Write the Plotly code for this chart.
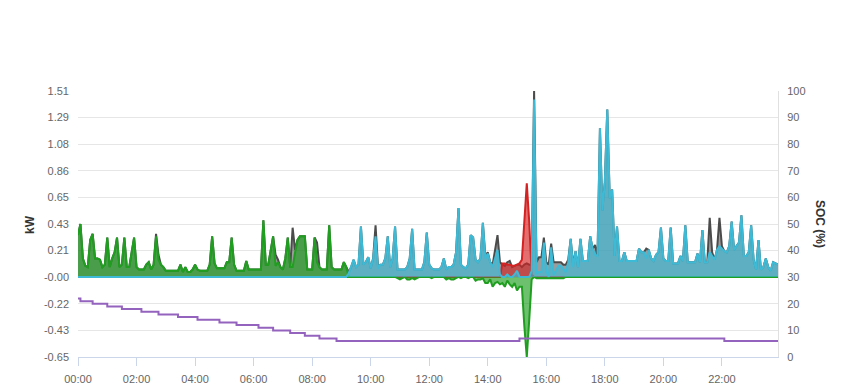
import pandas as pd
import plotly.graph_objects as go

# ---- time axis: 5-minute samples over one day ----
times = pd.date_range("2024-05-01 00:00", periods=288, freq="5min")

# ---- series values (kW), one row per hour (12 x 5-min samples) ----
load_kw = [
    0.34,0.43,0.15,0.09,0.08,0.30,0.35,0.15,0.15,0.14,0.08,0.10,
    0.32,0.08,0.15,0.20,0.32,0.08,0.10,0.32,0.08,0.08,0.20,0.32,
    0.08,0.06,0.06,0.06,0.10,0.12,0.06,0.10,0.35,0.18,0.10,0.08,
    0.05,0.05,0.05,0.05,0.05,0.05,0.10,0.04,0.08,0.04,0.04,0.06,
    0.10,0.06,0.05,0.05,0.05,0.05,0.10,0.33,0.11,0.07,0.07,0.07,
    0.07,0.12,0.12,0.32,0.10,0.05,0.05,0.05,0.05,0.13,0.06,0.06,
    0.06,0.06,0.06,0.06,0.46,0.10,0.10,0.20,0.33,0.18,0.14,0.08,
    0.06,0.15,0.32,0.08,0.40,0.22,0.30,0.33,0.33,0.33,0.06,0.06,
    0.06,0.32,0.28,0.08,0.06,0.06,0.06,0.42,0.08,0.06,0.06,0.06,
    0.06,0.12,0.08,0.04,0.08,0.14,0.08,0.10,0.41,0.10,0.12,0.16,
    0.07,0.15,0.42,0.08,0.10,0.10,0.15,0.33,0.08,0.15,0.41,0.06,
    0.06,0.06,0.06,0.08,0.15,0.39,0.06,0.06,0.06,0.06,0.12,0.36,
    0.10,0.07,0.06,0.06,0.06,0.08,0.15,0.06,0.08,0.08,0.10,0.20,
    0.56,0.10,0.08,0.07,0.10,0.34,0.32,0.14,0.12,0.15,0.44,0.17,
    0.20,0.12,0.10,0.22,0.34,0.12,0.10,0.09,0.12,0.13,0.08,0.09,
    0.10,0.10,0.08,0.10,0.11,0.10,0.10,1.51,0.12,0.16,0.16,0.32,
    0.12,0.10,0.27,0.12,0.12,0.12,0.12,0.10,0.10,0.14,0.31,0.10,
    0.21,0.08,0.31,0.13,0.13,0.13,0.33,0.23,0.26,0.17,1.21,0.54,
    0.77,1.36,0.64,0.71,0.17,0.41,0.13,0.13,0.20,0.13,0.13,0.13,
    0.13,0.13,0.23,0.20,0.20,0.23,0.22,0.15,0.13,0.18,0.20,0.40,
    0.15,0.13,0.13,0.40,0.11,0.11,0.11,0.17,0.13,0.42,0.12,0.12,
    0.12,0.12,0.19,0.12,0.38,0.12,0.12,0.48,0.20,0.14,0.22,0.48,
    0.25,0.21,0.20,0.25,0.45,0.22,0.25,0.28,0.50,0.17,0.17,0.20,
    0.42,0.14,0.06,0.30,0.06,0.08,0.15,0.08,0.05,0.12,0.11,0.10,
]

grid_kw = [
    0.34,0.43,0.15,0.09,0.08,0.30,0.35,0.15,0.15,0.14,0.08,0.10,
    0.32,0.08,0.15,0.20,0.32,0.08,0.10,0.32,0.08,0.08,0.20,0.32,
    0.08,0.06,0.06,0.06,0.10,0.12,0.06,0.10,0.33,0.14,0.10,0.08,
    0.05,0.05,0.05,0.05,0.05,0.05,0.10,0.04,0.08,0.04,0.04,0.06,
    0.10,0.06,0.05,0.05,0.05,0.05,0.10,0.33,0.11,0.07,0.07,0.07,
    0.07,0.12,0.12,0.32,0.10,0.05,0.05,0.05,0.05,0.13,0.06,0.06,
    0.06,0.06,0.06,0.06,0.46,0.10,0.10,0.20,0.33,0.09,0.12,0.08,
    0.06,0.15,0.32,0.08,0.08,0.20,0.30,0.33,0.33,0.33,0.06,0.06,
    0.06,0.32,0.12,0.08,0.06,0.06,0.06,0.42,0.08,0.06,0.06,0.06,
    0.06,0.12,0.08,0,0,0,0,0,0,0,0,0,
    0,0,0,0,0,0,0,0,0,0,0,-0.01,
    -0.02,-0.01,0,-0.02,-0.02,-0.01,-0.02,-0.01,0,0,0,0,
    0,-0.01,0,0,0,0,0,-0.02,-0.01,-0.02,-0.02,-0.01,
    0,-0.01,0,0,-0.01,0,0,-0.03,-0.02,-0.02,-0.01,-0.05,
    -0.05,-0.02,-0.08,-0.05,-0.04,-0.06,-0.05,-0.08,-0.03,-0.06,-0.08,-0.05,
    -0.11,-0.08,-0.08,-0.40,-0.65,-0.35,-0.02,0,-0.01,-0.01,-0.01,-0.01,
    -0.01,-0.01,-0.01,-0.01,-0.01,-0.01,-0.01,-0.01,0,0,0,0,
    0,0,0,0,0,0,0,0,0,0,0,0,
    0,0,0,0,0,0,0,0,0,0,0,0,
    0,0,0,0,0,0,0,0,0,0,0,0,
    0,0,0,0,0,0,0,0,0,0,0,0,
    0,0,0,0,0,0,0,0,0,0,0,0,
    0,0,0,0,0,0,0,0,0,0,0,0,
    0,0,0,0,0,0,0,0,0,0,0,0,
]

pv_kw = [
    0,0,0,0,0,0,0,0,0,0,0,0,
    0,0,0,0,0,0,0,0,0,0,0,0,
    0,0,0,0,0,0,0,0,0,0,0,0,
    0,0,0,0,0,0,0,0,0,0,0,0,
    0,0,0,0,0,0,0,0,0,0,0,0,
    0,0,0,0,0,0,0,0,0,0,0,0,
    0,0,0,0,0,0,0,0,0,0,0,0,
    0,0,0,0,0,0,0,0,0,0,0,0,
    0,0,0,0,0,0,0,0,0,0,0,0,
    0,0,0,0,0,0,0,0,0,0,0,0,
    0,0,0,0,0,0,0,0,0,0,0,0,
    0,0,0,0,0,0,0,0,0,0,0,0,
    0,0,0,0,0,0,0,0,0,0,0,0,
    0,0,0,0,0,0,0,0,0,0,0,0,
    0,0,0,0,0,0,0.11,0.11,0.10,0.10,0.09,0.09,
    0.10,0.11,0.14,0.50,0.76,0.45,0.02,0,0,0,0,0,
    0,0,0,0,0,0,0,0,0,0,0,0,
    0,0,0,0,0,0,0,0,0,0,0,0,
    0,0,0,0,0,0,0,0,0,0,0,0,
    0,0,0,0,0,0,0,0,0,0,0,0,
    0,0,0,0,0,0,0,0,0,0,0,0,
    0,0,0,0,0,0,0,0,0,0,0,0,
    0,0,0,0,0,0,0,0,0,0,0,0,
    0,0,0,0,0,0,0,0,0,0,0,0,
]

battery_kw = [
    0,0,0,0,0,0,0,0,0,0,0,0,
    0,0,0,0,0,0,0,0,0,0,0,0,
    0,0,0,0,0,0,0,0,0,0,0,0,
    0,0,0,0,0,0,0,0,0,0,0,0,
    0,0,0,0,0,0,0,0,0,0,0,0,
    0,0,0,0,0,0,0,0,0,0,0,0,
    0,0,0,0,0,0,0,0,0,0,0,0,
    0,0,0,0,0,0,0,0,0,0,0,0,
    0,0,0,0,0,0,0,0,0,0,0,0,
    0,0,0,0.03,0.08,0.14,0.08,0.10,0.41,0.10,0.12,0.16,
    0.07,0.15,0.33,0.07,0.10,0.10,0.15,0.33,0.08,0.15,0.41,0.06,
    0.06,0.06,0.06,0.08,0.15,0.39,0.06,0.06,0.06,0.06,0.12,0.36,
    0.10,0.07,0.06,0.06,0.06,0.08,0.15,0.06,0.08,0.08,0.10,0.20,
    0.56,0.10,0.08,0.07,0.10,0.34,0.32,0.14,0.12,0.15,0.44,0.15,
    0.19,0.12,0.08,0.15,0.22,0.02,0.00,0.00,0.02,0.00,0.00,0.02,
    0.05,0.00,0.00,0.00,0.00,0.00,0.05,1.44,0.03,0.04,0.04,0.28,
    0.05,0.00,0.24,0.02,0.05,0.09,0.09,0.06,0.04,0.12,0.31,0.08,
    0.21,0.08,0.31,0.13,0.13,0.13,0.33,0.23,0.18,0.17,1.21,0.54,
    0.77,1.36,0.64,0.71,0.17,0.41,0.13,0.13,0.20,0.13,0.13,0.13,
    0.13,0.13,0.23,0.20,0.20,0.15,0.22,0.15,0.13,0.18,0.20,0.40,
    0.15,0.13,0.13,0.40,0.11,0.11,0.11,0.17,0.13,0.42,0.12,0.12,
    0.12,0.12,0.19,0.12,0.38,0.12,0.12,0.20,0.17,0.14,0.22,0.25,
    0.23,0.21,0.20,0.25,0.45,0.22,0.25,0.28,0.50,0.17,0.17,0.20,
    0.42,0.14,0.06,0.30,0.06,0.08,0.15,0.08,0.05,0.12,0.11,0.10,
]

# ---- battery state of charge (%), value from each change time ----
soc_times = ["00:00", "00:05", "00:30", "01:00", "01:30", "02:10", "02:45",
             "03:25", "04:05", "04:50", "05:25", "06:10", "06:40", "07:15",
             "07:45", "08:15", "08:50", "15:05", "22:05", "23:55"]
soc_pct = [22, 21, 20, 19, 18, 17, 16, 15, 14, 13, 12, 11, 10, 9, 8, 7, 6, 7, 6, 6]

# ---- axis ticks ----
kw_ticks = [-0.65, -0.434, -0.218, -0.002, 0.214, 0.43, 0.646, 0.862, 1.078, 1.294, 1.51]
kw_labels = ["-0.65", "-0.43", "-0.22", "-0.00", "0.21", "0.43", "0.65", "0.86", "1.08", "1.29", "1.51"]
soc_ticks = [0, 10, 20, 30, 40, 50, 60, 70, 80, 90, 100]

for arr in (load_kw, grid_kw, pv_kw, battery_kw):
    assert len(arr) == len(times)

day = times[0].strftime("%Y-%m-%d")
soc_x = [f"{day} {t}" for t in soc_times]

fig = go.Figure()

fig.add_trace(go.Scatter(x=times, y=load_kw, name="Load", mode="lines",
                         fill="tozeroy", line=dict(color="#4b4b4b", width=2),
                         fillcolor="rgba(75,75,75,0.55)"))
fig.add_trace(go.Scatter(x=times, y=pv_kw, name="PV", mode="lines",
                         fill="tozeroy", line=dict(color="#d42222", width=2),
                         fillcolor="rgba(212,34,34,0.65)"))
fig.add_trace(go.Scatter(x=times, y=grid_kw, name="Grid", mode="lines",
                         fill="tozeroy", line=dict(color="#1f9e1f", width=2),
                         fillcolor="rgba(31,158,31,0.65)"))
fig.add_trace(go.Scatter(x=times, y=battery_kw, name="Battery", mode="lines",
                         fill="tozeroy", line=dict(color="#3dbad5", width=2),
                         fillcolor="rgba(61,186,213,0.65)"))
fig.add_trace(go.Scatter(x=soc_x, y=soc_pct, name="SOC", mode="lines", yaxis="y2",
                         line=dict(color="#9463bd", width=2, shape="hv")))

font_family = "Liberation Sans, Arial, sans-serif"

fig.update_layout(
    width=849, height=390,
    margin=dict(l=78, r=71, t=91, b=33),
    paper_bgcolor="white", plot_bgcolor="white",
    showlegend=False,
    font=dict(family=font_family, size=11, color="#666666"),
    xaxis=dict(
        type="date",
        range=[times[0], times[-1]],
        tickformat="%H:%M",
        dtick=7200000,
        tick0=times[0],
        ticks="outside", ticklen=8, tickcolor="#ccd6eb", tickwidth=1,
        showline=True, linecolor="#ccd6eb", linewidth=1,
        showgrid=False, zeroline=False,
        tickfont=dict(size=11, color="#666666"),
        ticklabelstandoff=4,
        automargin=False,
    ),
    yaxis=dict(
        range=[-0.65, 1.51],
        tickmode="array", tickvals=kw_ticks, ticktext=kw_labels,
        showgrid=True, gridcolor="#e6e6e6", gridwidth=1,
        zeroline=False, showline=False, ticks="",
        tickfont=dict(size=11, color="#666666"),
        ticklabelstandoff=8,
        automargin=False,
    ),
    yaxis2=dict(
        overlaying="y", side="right",
        range=[0, 100], tickmode="array", tickvals=soc_ticks,
        showgrid=False, zeroline=False,
        showline=True, linecolor="#e0e0e0", linewidth=1, ticks="",
        tickfont=dict(size=11, color="#666666"),
        ticklabelstandoff=6,
        automargin=False,
    ),
    annotations=[
        dict(text="<b>kW</b>", xref="paper", yref="paper", x=-0.0686, y=0.5,
             showarrow=False, textangle=-90, xanchor="center", yanchor="middle",
             font=dict(family=font_family, size=12, color="#333333")),
        dict(text="<b>SOC (%)</b>", xref="paper", yref="paper", x=1.06, y=0.5,
             showarrow=False, textangle=90, xanchor="center", yanchor="middle",
             font=dict(family=font_family, size=12, color="#333333")),
    ],
)

fig.write_html("out.html")
